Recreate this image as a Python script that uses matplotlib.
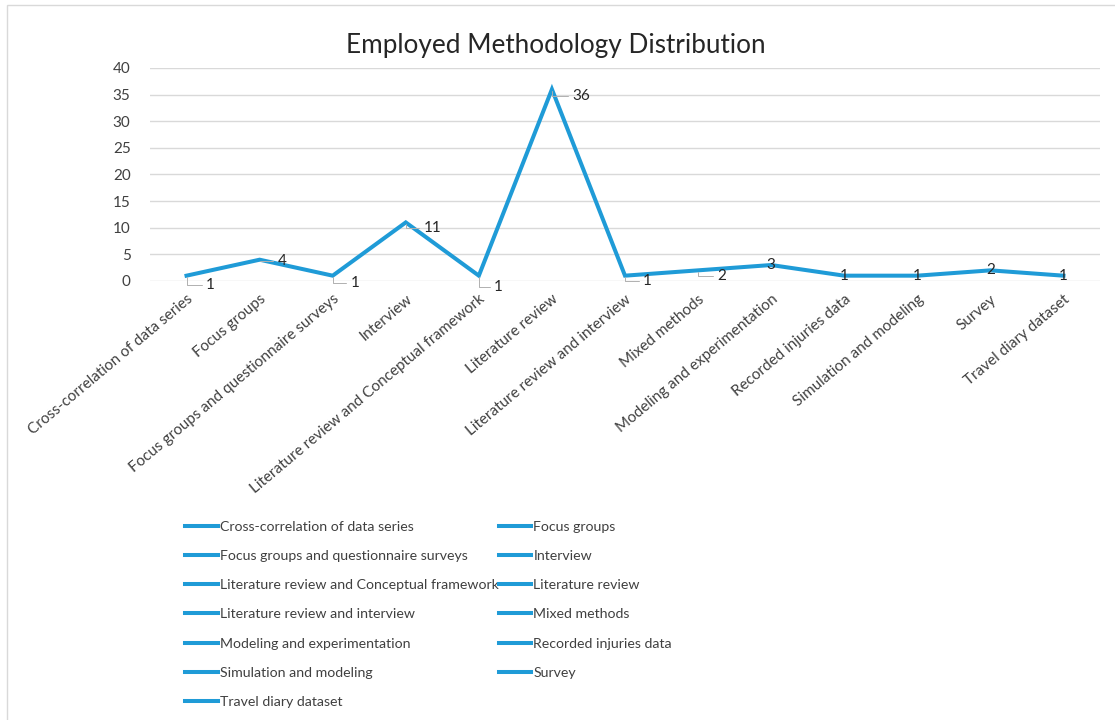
import matplotlib.pyplot as plt
from matplotlib.lines import Line2D
from matplotlib.patches import Rectangle

plt.rcParams['font.family'] = ['Lato', 'DejaVu Sans']

methods = ['Cross-correlation of data series', 'Focus groups',
           'Focus groups and questionnaire surveys', 'Interview',
           'Literature review and Conceptual framework', 'Literature review',
           'Literature review and interview', 'Mixed methods',
           'Modeling and experimentation', 'Recorded injuries data',
           'Simulation and modeling', 'Survey', 'Travel diary dataset']
counts = [1, 4, 1, 11, 1, 36, 1, 2, 3, 1, 1, 2, 1]

# where each value label sits relative to its point (offset in points)
label_offsets = [(17, -7), (16, -1), (16, -5), (19, -4), (14, -8), (21, -5), (16, -4),
                 (17, -4), (0, 0), (0, 0), (0, 0), (0, 0), (0, 0)]

blue = '#1f9bd7'
text_col = '#404040'

fig = plt.figure(figsize=(11.15, 7.2), dpi=100)
ax = fig.add_axes([150 / 1115, 1 - 281 / 720, 950 / 1115, 213 / 720])

x = list(range(len(methods)))
ax.plot(x, counts, color=blue, lw=2.9, solid_joinstyle='miter', zorder=3)

for xi, v, (dx, dy) in zip(x, counts, label_offsets):
    if dx == 0 and dy == 0:
        ax.annotate(str(v), (xi, v), ha='center', va='center', fontsize=11,
                    color='#262626', zorder=4)
    else:
        ax.annotate(str(v), (xi, v), xytext=(dx, dy), textcoords='offset points',
                    ha='center', va='center', fontsize=11, color='#262626',
                    arrowprops=dict(arrowstyle='-', color='#b0b0b0', lw=0.7,
                                    connectionstyle='angle,angleA=0,angleB=90',
                                    shrinkA=1, shrinkB=1))

ax.set_xlim(-0.5, len(methods) - 0.5)
ax.set_ylim(0, 40)
ax.set_yticks(range(0, 41, 5))
ax.yaxis.grid(True, color='#d9d9d9', lw=1)
ax.set_axisbelow(True)
for s in ax.spines.values():
    s.set_visible(False)
ax.tick_params(axis='both', length=0, labelsize=11, labelcolor=text_col)
ax.tick_params(axis='y', pad=14)
ax.set_xticks(x)
ax.set_xticklabels(methods, rotation=40, ha='right', va='top', rotation_mode='anchor')
ax.tick_params(axis='x', pad=8)

fig.text(556 / 1115, 1 - 46 / 720, 'Employed Methodology Distribution', ha='center',
         va='center', fontsize=18.8, color='#262626')

# legend lists entries row by row, matplotlib fills columns first
order = list(range(0, 13, 2)) + list(range(1, 13, 2))
handles = [Line2D([], [], color=blue, lw=2.9) for _ in methods]
fig.legend([handles[i] for i in order], [methods[i] for i in order],
           ncol=2, loc='upper left', bbox_to_anchor=(185 / 1115, 1 - 521 / 720),
           frameon=False, fontsize=10.2, handlelength=2.3, handletextpad=0.15,
           columnspacing=0.0, labelspacing=1.21, labelcolor=text_col,
           borderaxespad=0, borderpad=0)

# thin outer frame of the chart area
fig.patches.append(Rectangle((7 / 1115, -0.01), 1.02, 1 - 5 / 720 + 0.01,
                             transform=fig.transFigure, fill=False,
                             edgecolor='#d9d9d9', lw=1))

fig.savefig('out.png', dpi=100)
